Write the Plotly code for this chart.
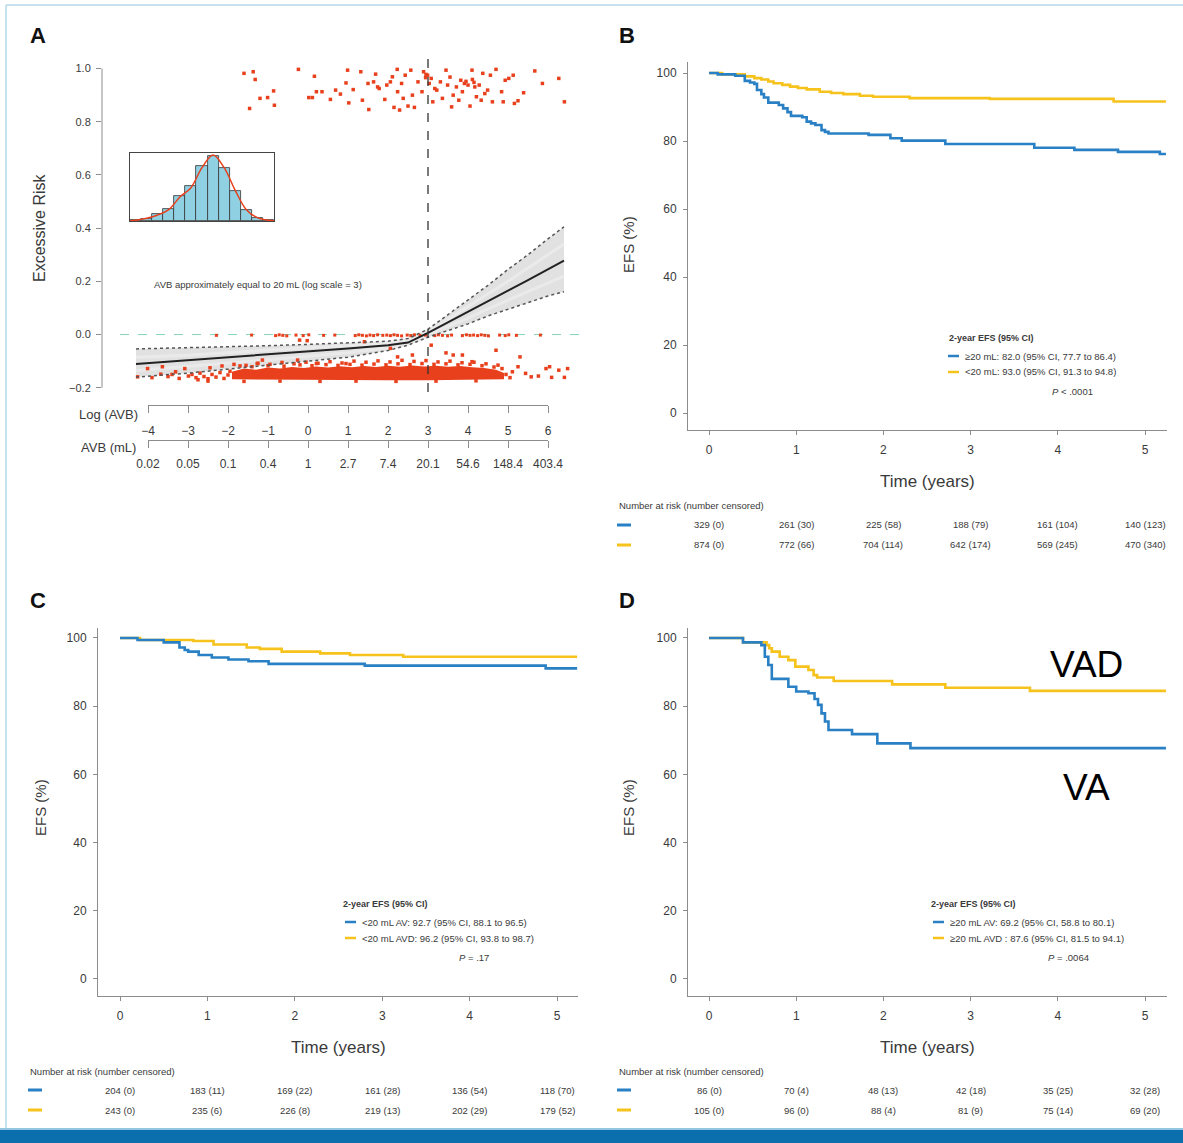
import plotly.graph_objects as go

W, H = 1183, 1143
FONT = "Liberation Sans"
BLUE = "#2a80c4"
YELLOW = "#f6c21c"
RED = "#e8401c"
TXT = "#3a3a3a"
AX = "#8c8c8c"

# ---------------- Panel A data ----------------
log_ticks = [-4, -3, -2, -1, 0, 1, 2, 3, 4, 5, 6]
log_tick_text = ["−4", "−3", "−2", "−1", "0", "1", "2", "3", "4", "5", "6"]
avb_tick_text = ["0.02", "0.05", "0.1", "0.4", "1", "2.7", "7.4", "20.1", "54.6", "148.4", "403.4"]
risk_ticks = [-0.2, 0.0, 0.2, 0.4, 0.6, 0.8, 1.0]
risk_tick_text = ["−0.2", "0.0", "0.2", "0.4", "0.6", "0.8", "1.0"]

fit_x = [-4.3, -3, -2, -1, 0, 1, 2, 2.5, 3, 3.5, 4, 4.5, 5, 5.5, 6, 6.4]
fit_mid = [-0.111, -0.097, -0.086, -0.074, -0.063, -0.052, -0.040, -0.030, 0.006, 0.045, 0.085, 0.125, 0.165, 0.205, 0.245, 0.278]
fit_hi = [-0.054, -0.050, -0.046, -0.042, -0.037, -0.032, -0.025, -0.015, 0.020, 0.075, 0.130, 0.185, 0.245, 0.300, 0.360, 0.405]
fit_lo = [-0.160, -0.145, -0.130, -0.115, -0.100, -0.085, -0.060, -0.040, -0.010, 0.015, 0.040, 0.070, 0.095, 0.120, 0.145, 0.161]
fit_in1 = [-0.085, -0.078, -0.068, -0.058, -0.050, -0.042, -0.032, -0.022, 0.012, 0.058, 0.105, 0.150, 0.200, 0.250, 0.300, 0.340]
fit_in2 = [-0.135, -0.120, -0.108, -0.095, -0.082, -0.068, -0.050, -0.035, 0.000, 0.030, 0.062, 0.097, 0.130, 0.162, 0.195, 0.220]

top_x = [-1.60, -1.37, -1.32, -1.46, -1.20, -1.01, -0.86, -0.84, -0.24, 0.16, 0.02, 0.11, 0.21, 0.35, 0.56,
         0.69, 0.81, 0.95, 0.99, 1.02, 1.13, 1.32, 1.36, 1.50, 1.52, 1.64, 1.69, 1.74, 1.78, 1.92, 1.97,
         2.06, 2.11, 2.15, 2.23, 2.24, 2.29, 2.34, 2.38, 2.43, 2.50, 2.57, 2.61, 2.66, 2.75, 2.85, 2.89,
         2.94, 2.99, 3.03, 3.08, 3.12, 3.17, 3.22, 3.31, 3.36, 3.45, 3.49, 3.59, 3.63, 3.71, 3.77, 3.82,
         3.86, 3.91, 4.00, 4.05, 4.10, 4.11, 4.17, 4.21, 4.28, 4.33, 4.37, 4.42, 4.49, 4.56, 4.61, 4.70,
         4.84, 4.88, 4.93, 5.02, 5.13, 5.16, 5.25, 5.39, 5.67, 5.86, 6.27, 6.41, 3.95, 4.15, 2.95, 3.55]
top_y = [0.982, 0.988, 0.959, 0.850, 0.888, 0.891, 0.916, 0.862, 0.997, 0.971, 0.891, 0.891, 0.913, 0.913, 0.884,
         0.919, 0.904, 0.946, 0.994, 0.871, 0.921, 0.988, 0.881, 0.944, 0.846, 0.950, 0.979, 0.931, 0.925, 0.884, 0.938,
         0.950, 0.969, 0.854, 0.997, 0.913, 0.844, 0.944, 0.888, 0.975, 0.859, 0.994, 0.900, 0.854, 0.950, 0.913, 0.988,
         0.966, 0.975, 0.944, 0.963, 0.875, 0.925, 0.919, 0.950, 0.888, 0.994, 0.938, 0.856, 0.900, 0.931, 0.881, 0.956,
         0.913, 0.944, 0.938, 0.859, 0.994, 0.959, 0.931, 0.894, 0.938, 0.881, 0.982, 0.906, 0.919, 0.975, 0.875, 0.997,
         0.913, 0.875, 0.956, 0.963, 0.975, 0.869, 0.879, 0.909, 0.991, 0.944, 0.963, 0.875, 0.952, 0.948, 0.978, 0.968]

zero_x = [-2.29, -1.41, -0.81, -0.72, -0.63, -0.53, -0.30, -0.12, 0.02, 0.39, 0.67, 1.18, 1.27, 1.36, 1.46, 1.55,
          1.64, 1.74, 1.87, 1.97, 2.06, 2.15, 2.24, 2.34, 2.48, 2.57, 2.66, 2.80, 2.94, 3.17, 3.26, 3.36, 3.49,
          3.59, 3.86, 3.96, 4.05, 4.14, 4.24, 4.33, 4.42, 4.51, 4.79, 4.93, 5.02, 5.21, 5.81]
zero_y = [-0.003, -0.002, -0.004, -0.001, -0.003, -0.005, -0.002, -0.004, -0.001, -0.003, -0.002, -0.004, -0.001,
          -0.003, -0.005, -0.002, -0.004, -0.001, -0.003, -0.002, -0.004, -0.001, -0.003, -0.005, -0.002, -0.004,
          -0.001, -0.003, -0.002, -0.004, -0.001, -0.003, -0.005, -0.002, -0.004, -0.001, -0.003, -0.002, -0.004,
          -0.001, -0.003, -0.005, -0.002, -0.004, -0.001, -0.003, -0.002]

mid_x = [-0.21, -0.02, 1.41, 2.06, 2.24, 2.61, 3.08, 3.45, 3.63, 3.86, 4.70, 5.30, 6.04, -1.27, -1.14, -0.26, 0.21, 0.95, 4.10]
mid_y = [-0.021, -0.023, -0.027, -0.052, -0.084, -0.077, -0.040, -0.069, -0.077, -0.077, -0.059, -0.084, -0.121,
         -0.109, -0.096, -0.096, -0.109, -0.109, -0.102]

low_x = [-4.26, -4.01, -3.68, -3.64, -3.31, -3.22, -3.08, -2.99, -2.75, -2.45, -2.15, -1.85, -1.55, -1.25, -0.95,
         -0.65, -0.35, -0.05, 0.25, 0.55, 0.85, 1.15, 1.45, 1.75, 2.05, 2.35, 2.65, 2.95, 3.25, 3.55, 3.85, 4.15,
         4.45, 4.75, 5.11, 5.25, 5.44, 5.58, 5.76, 5.95, 6.09, 6.27, 6.41, 6.49, 5.05, 4.95,
         -2.5, -1.6, -0.7, 0.3, 1.2, 2.2, 3.2, 4.2,
         -2.9, -2.8, -2.7, -2.6, -2.5, -2.4, -2.3, -2.2, -2.1, -2.0, -1.95, -3.5, -3.4, -3.9,
         -1.7, -1.4, -1.0, -0.6, -0.2, 0.1, 0.45, 0.75, 1.05, 1.35, 1.65, 1.95, 2.25, 2.55, 2.85, 3.15, 3.45,
         3.75, 4.05, 4.35, 4.65, 4.85]
low_y = [-0.159, -0.128, -0.149, -0.121, -0.140, -0.165, -0.128, -0.156, -0.170, -0.125, -0.118, -0.112, -0.116,
         -0.108, -0.112, -0.105, -0.110, -0.104, -0.108, -0.102, -0.107, -0.100, -0.104, -0.099, -0.103, -0.097,
         -0.101, -0.098, -0.103, -0.100, -0.106, -0.104, -0.110, -0.115, -0.140, -0.121, -0.146, -0.159, -0.156,
         -0.128, -0.161, -0.134, -0.161, -0.128, -0.162, -0.150,
         -0.175, -0.176, -0.175, -0.176, -0.175, -0.176, -0.175, -0.174,
         -0.150, -0.162, -0.145, -0.158, -0.166, -0.150, -0.160, -0.143, -0.165, -0.152, -0.138, -0.158, -0.150, -0.162,
         -0.118, -0.121, -0.117, -0.119, -0.114, -0.117, -0.113, -0.116, -0.112, -0.115, -0.111, -0.114, -0.110,
         -0.113, -0.109, -0.112, -0.110, -0.114, -0.112, -0.117, -0.122, -0.128]

core_top_x = [-1.9, -1.6, -1.3, -1.0, -0.7, -0.4, -0.1, 0.2, 0.5, 0.8, 1.1, 1.4, 1.7, 2.0, 2.3, 2.6, 2.9, 3.2,
              3.5, 3.8, 4.1, 4.4, 4.7, 4.9]
core_top_y = [-0.140, -0.128, -0.132, -0.124, -0.128, -0.122, -0.126, -0.120, -0.124, -0.119, -0.123, -0.118,
              -0.122, -0.117, -0.121, -0.116, -0.120, -0.117, -0.121, -0.118, -0.123, -0.126, -0.132, -0.145]
core_bot_x = [4.9, 4.0, 3.0, 2.0, 1.0, 0.0, -1.0, -1.9]
core_bot_y = [-0.168, -0.171, -0.172, -0.172, -0.171, -0.172, -0.171, -0.168]

hist_bin = list(range(13))
hist_val = [0.01, 0.03, 0.10, 0.18, 0.38, 0.52, 0.82, 0.98, 0.80, 0.45, 0.16, 0.05, 0.01]
dens_x = [-0.5, 0, 1, 2, 3, 4, 5, 6, 7, 8, 9, 10, 11, 12, 12.5]
dens_y = [0.005, 0.01, 0.04, 0.09, 0.17, 0.36, 0.50, 0.80, 0.99, 0.80, 0.46, 0.17, 0.05, 0.01, 0.005]

# ---------------- KM data ----------------
B_blue_t = [0, 0.10, 0.30, 0.41, 0.47, 0.52, 0.55, 0.60, 0.63, 0.68, 0.80, 0.85, 0.90, 0.94, 1.07, 1.12, 1.17,
            1.22, 1.29, 1.33, 1.37, 1.83, 2.08, 2.21, 2.71, 3.73, 4.19, 4.69, 5.17, 5.24]
B_blue_v = [100, 99.6, 99.2, 97.7, 97.2, 96.8, 95.0, 93.8, 92.8, 91.3, 90.6, 89.6, 88.5, 87.4, 87.0, 85.7, 85.2,
            84.7, 83.2, 82.7, 82.2, 81.8, 80.8, 80.1, 79.1, 78.0, 77.4, 76.8, 76.2, 76.2]
B_yel_t = [0, 0.15, 0.41, 0.52, 0.60, 0.68, 0.74, 0.84, 0.93, 1.02, 1.12, 1.27, 1.40, 1.54, 1.73, 1.88, 2.30,
           3.22, 4.64, 5.24]
B_yel_v = [100, 99.6, 99.0, 98.5, 98.1, 97.5, 97.0, 96.5, 96.0, 95.6, 95.2, 94.5, 94.1, 93.8, 93.3, 93.0, 92.6,
           92.4, 91.6, 91.6]

C_blue_t = [0, 0.20, 0.50, 0.68, 0.74, 0.78, 0.90, 1.05, 1.24, 1.47, 1.70, 2.80, 4.87, 5.23]
C_blue_v = [100, 99.4, 98.7, 97.2, 96.5, 96.0, 95.0, 94.3, 93.7, 93.2, 92.4, 91.9, 91.1, 91.1]
C_yel_t = [0, 0.23, 0.84, 1.07, 1.45, 1.60, 1.85, 2.29, 2.63, 3.24, 5.23]
C_yel_v = [100, 99.4, 99.1, 98.1, 97.2, 96.8, 96.0, 95.5, 95.0, 94.5, 94.5]

D_blue_t = [0, 0.39, 0.60, 0.64, 0.68, 0.72, 0.91, 1.00, 1.14, 1.21, 1.25, 1.29, 1.33, 1.37, 1.64, 1.93, 2.31, 5.24]
D_blue_v = [100, 98.7, 97.9, 94.5, 92.1, 88.0, 85.7, 84.3, 83.8, 82.1, 80.4, 77.9, 75.5, 73.0, 71.8, 69.1, 67.7, 67.7]
D_yel_t = [0, 0.39, 0.66, 0.69, 0.72, 0.81, 0.91, 0.99, 1.14, 1.20, 1.24, 1.43, 2.10, 2.71, 3.68, 5.24]
D_yel_v = [100, 98.7, 97.9, 97.0, 96.0, 94.5, 93.5, 91.6, 90.6, 89.1, 88.4, 87.4, 86.4, 85.4, 84.5, 84.5]

time_ticks = [0, 1, 2, 3, 4, 5]
efs_ticks = [0, 20, 40, 60, 80, 100]

B_risk_blue = ["329 (0)", "261 (30)", "225 (58)", "188 (79)", "161 (104)", "140 (123)"]
B_risk_yel = ["874 (0)", "772 (66)", "704 (114)", "642 (174)", "569 (245)", "470 (340)"]
C_risk_blue = ["204 (0)", "183 (11)", "169 (22)", "161 (28)", "136 (54)", "118 (70)"]
C_risk_yel = ["243 (0)", "235 (6)", "226 (8)", "219 (13)", "202 (29)", "179 (52)"]
D_risk_blue = ["86 (0)", "70 (4)", "48 (13)", "42 (18)", "35 (25)", "32 (28)"]
D_risk_yel = ["105 (0)", "96 (0)", "88 (4)", "81 (9)", "75 (14)", "69 (20)"]

B_legend = ["≥20 mL: 82.0 (95% CI, 77.7 to 86.4)", "<20 mL: 93.0 (95% CI, 91.3 to 94.8)"]
C_legend = ["<20 mL AV: 92.7 (95% CI, 88.1 to 96.5)", "<20 mL AVD: 96.2 (95% CI, 93.8 to 98.7)"]
D_legend = ["≥20 mL AV: 69.2 (95% CI, 58.8 to 80.1)", "≥20 mL AVD : 87.6 (95% CI, 81.5 to 94.1)"]
P_values = ["<i>P</i> < .0001", "<i>P</i> = .17", "<i>P</i> = .0064"]


def fx(p):
    return p / W


def fy(p):
    return 1 - p / H


def dom_x(a, b):
    return [a / W, b / W]


def dom_y(a, b):
    return [1 - b / H, 1 - a / H]


fig = go.Figure()

# ---- Panel A traces ----
fig.add_trace(go.Scatter(x=fit_x + fit_x[::-1], y=fit_hi + fit_lo[::-1], fill="toself",
                         fillcolor="rgba(200,200,200,0.55)", line=dict(width=0), mode="lines",
                         xaxis="x", yaxis="y", hoverinfo="skip"))
for ys in [fit_in1, fit_in2]:
    fig.add_trace(go.Scatter(x=fit_x, y=ys, mode="lines", xaxis="x", yaxis="y",
                             line=dict(color="rgba(235,235,235,0.9)", width=3), hoverinfo="skip"))
fig.add_trace(go.Scatter(x=core_top_x + core_bot_x, y=core_top_y + core_bot_y, fill="toself",
                         fillcolor=RED, line=dict(width=0, color=RED), mode="lines",
                         xaxis="x", yaxis="y", hoverinfo="skip"))
for xs, ys, sz in [(top_x, top_y, 3.5), (zero_x, zero_y, 3), (mid_x, mid_y, 3.5), (low_x, low_y, 3.5)]:
    fig.add_trace(go.Scatter(x=xs, y=ys, mode="markers", xaxis="x", yaxis="y",
                             marker=dict(color=RED, size=sz, symbol="square", line=dict(width=0)),
                             hoverinfo="skip"))
for ys in [fit_hi, fit_lo]:
    fig.add_trace(go.Scatter(x=fit_x, y=ys, mode="lines", xaxis="x", yaxis="y",
                             line=dict(color="#555555", width=1.5, dash="dot"), hoverinfo="skip"))
fig.add_trace(go.Scatter(x=fit_x, y=fit_mid, mode="lines", xaxis="x", yaxis="y",
                         line=dict(color="#222222", width=2), hoverinfo="skip"))

# dummy traces for the two lower custom axes
for ax in ["x6", "x7"]:
    fig.add_trace(go.Scatter(x=[-4, 6], y=[0.5, 0.5], mode="markers", xaxis=ax, yaxis="y",
                             marker=dict(opacity=0), hoverinfo="skip"))

# inset histogram
fig.add_trace(go.Bar(x=hist_bin, y=hist_val, xaxis="x5", yaxis="y5",
                     marker=dict(color="#8fd0e2", line=dict(color="#333333", width=0.8)), hoverinfo="skip"))
fig.add_trace(go.Scatter(x=dens_x, y=dens_y, mode="lines", xaxis="x5", yaxis="y5",
                         line=dict(color=RED, width=1.5, shape="spline"), hoverinfo="skip"))

# ---- KM traces ----
km = [("x2", "y2", B_blue_t, B_blue_v, B_yel_t, B_yel_v),
      ("x3", "y3", C_blue_t, C_blue_v, C_yel_t, C_yel_v),
      ("x4", "y4", D_blue_t, D_blue_v, D_yel_t, D_yel_v)]
for xa, ya, bt, bv, yt, yv in km:
    fig.add_trace(go.Scatter(x=yt, y=yv, mode="lines", xaxis=xa, yaxis=ya,
                             line=dict(color=YELLOW, width=2.6, shape="hv"), hoverinfo="skip"))
    fig.add_trace(go.Scatter(x=bt, y=bv, mode="lines", xaxis=xa, yaxis=ya,
                             line=dict(color=BLUE, width=2.6, shape="hv"), hoverinfo="skip"))

common_ax = dict(showgrid=False, zeroline=False, linecolor=AX, tickcolor=AX, automargin=False)


def km_axes(dx, dy, xr, yr, anchor_x, anchor_y):
    xa = dict(domain=dom_x(*dx), range=xr, anchor=anchor_y, showline=True, ticks="outside", ticklen=4,
              tickvals=time_ticks, tickfont=dict(size=12, color=TXT), ticklabelstandoff=5, **common_ax)
    ya = dict(domain=dom_y(*dy), range=yr, anchor=anchor_x, showline=True, ticks="outside", ticklen=4,
              tickvals=efs_ticks, tickfont=dict(size=12, color=TXT), ticklabelstandoff=4, **common_ax)
    return xa, ya


xB, yB = km_axes((688, 1167), (62, 430), [-0.241, 5.252], [-5.0, 103.24], "x2", "y2")
xC, yC = km_axes((98, 578), (628, 996), [-0.252, 5.240], [-4.99, 102.93], "x3", "y3")
xD, yD = km_axes((688, 1167), (628, 996), [-0.241, 5.252], [-4.99, 102.93], "x4", "y4")

inset_ax = dict(showline=True, mirror=True, linecolor="#444444", showticklabels=False, ticks="",
                showgrid=False, zeroline=False, automargin=False)

fig.update_layout(
    width=W, height=H, margin=dict(l=0, r=0, t=0, b=0, autoexpand=False),
    paper_bgcolor="white", plot_bgcolor="rgba(0,0,0,0)", showlegend=False, bargap=0,
    font=dict(family=FONT, color=TXT),
    xaxis=dict(domain=dom_x(102, 590), range=[-5.15, 7.05], visible=False, anchor="y", automargin=False),
    yaxis=dict(domain=dom_y(55, 392), range=[-0.216, 1.051], anchor="x", tickvals=risk_ticks,
               ticktext=risk_tick_text, ticks="outside", ticklen=5, showline=False,
               tickfont=dict(size=11, color=TXT), ticklabelstandoff=3, **common_ax),
    xaxis6=dict(domain=dom_x(148, 548), range=[-4, 6], anchor="free", position=fy(405), side="bottom",
                showline=True, ticks="outside", ticklen=7, tickvals=log_ticks, ticktext=log_tick_text,
                tickfont=dict(size=12, color=TXT), ticklabelstandoff=8, **common_ax),
    xaxis7=dict(domain=dom_x(148, 548), range=[-4, 6], anchor="free", position=fy(440), side="bottom",
                showline=True, ticks="outside", ticklen=7, tickvals=log_ticks, ticktext=avb_tick_text,
                tickfont=dict(size=12, color=TXT), ticklabelstandoff=6, **common_ax),
    xaxis5=dict(domain=dom_x(130, 274), range=[-0.5, 12.5], anchor="y5", **inset_ax),
    yaxis5=dict(domain=dom_y(153, 221), range=[0, 1.02], anchor="x5", **inset_ax),
    xaxis2=xB, yaxis2=yB, xaxis3=xC, yaxis3=yC, xaxis4=xD, yaxis4=yD,
)

shapes = []
# page frame
shapes.append(dict(type="line", xref="paper", yref="paper", x0=fx(6), x1=1, y0=fy(5), y1=fy(5),
                   line=dict(color="#b5d9ea", width=1.5)))
shapes.append(dict(type="line", xref="paper", yref="paper", x0=fx(6), x1=fx(6), y0=fy(5), y1=fy(1128),
                   line=dict(color="#b5d9ea", width=1.5)))
shapes.append(dict(type="rect", xref="paper", yref="paper", x0=0, x1=1, y0=0, y1=fy(1130),
                   fillcolor="#0b6fae", line=dict(width=0)))
shapes.append(dict(type="line", xref="paper", yref="paper", x0=0, x1=1, y0=fy(1129), y1=fy(1129),
                   line=dict(color="#6fb3da", width=1.5)))
# panel A axis line, reference lines
shapes.append(dict(type="line", xref="x domain", yref="y", x0=0, x1=0, y0=-0.2, y1=1.0,
                   line=dict(color=AX, width=1)))
shapes.append(dict(type="line", xref="x", yref="y domain", x0=3, x1=3, y0=0, y1=1,
                   line=dict(color="#333333", width=1.3, dash="dash")))
shapes.append(dict(type="line", xref="x", yref="y", x0=-4.7, x1=6.9, y0=0, y1=0, layer="below",
                   line=dict(color="#86d3b5", width=1, dash="dash")))

ann = []


def txt(x, y, s, size, color=TXT, xa="left", ya="middle", angle=0, xref="paper", yref="paper"):
    ann.append(dict(x=x, y=y, xref=xref, yref=yref, text=s, showarrow=False, xanchor=xa, yanchor=ya,
                    textangle=angle, font=dict(size=size, color=color, family=FONT)))


# panel letters
for letter, lx, ly in [("A", 38, 35), ("B", 627, 35), ("C", 38, 600), ("D", 627, 600)]:
    txt(fx(lx), fy(ly), "<b>" + letter + "</b>", 22, color="#111111", xa="center")

# panel A texts
txt(fx(40), fy(228), "Excessive Risk", 16, angle=-90, xa="center")
txt(fx(152), fy(284), "AVB approximately equal to 20 mL (log scale = 3)", 9.5)
txt(fx(140), fy(414), "Log (AVB)", 13, xa="right")
txt(fx(138), fy(448), "AVB (mL)", 13, xa="right")

# KM titles
for (ex, ey), (tx, ty) in [((628, 245), (927, 481)), ((40, 808), (338, 1047)), ((628, 808), (927, 1047))]:
    txt(fx(ex), fy(ey), "EFS (%)", 15, angle=-90, xa="center")
    txt(fx(tx), fy(ty), "Time (years)", 17, xa="center")

# KM legends
legs = [(947, 338, 963, B_legend, P_values[0], 1072, 392),
        (341, 904, 360, C_legend, P_values[1], 474, 957),
        (929, 904, 948, D_legend, P_values[2], 1068, 957)]
for tx0, ty0, textx, lines, ptxt, pxc, pyc in legs:
    txt(fx(tx0), fy(ty0), "<b>2-year EFS (95% CI)</b>", 9)
    for i, (col, line) in enumerate(zip([BLUE, YELLOW], lines)):
        yy = ty0 + 18 + 16 * i
        shapes.append(dict(type="line", xref="paper", yref="paper", x0=fx(textx - 15), x1=fx(textx - 4),
                           y0=fy(yy), y1=fy(yy), line=dict(color=col, width=2.5)))
        txt(fx(textx), fy(yy), line, 9.5)
    txt(fx(pxc), fy(pyc), ptxt, 9.5, xa="center")

# number-at-risk tables
tables = [("x2", 617, 506, B_risk_blue, B_risk_yel),
          ("x3", 28, 1071, C_risk_blue, C_risk_yel),
          ("x4", 617, 1071, D_risk_blue, D_risk_yel)]
for xa, hx, hy, rb, ryl in tables:
    txt(fx(hx), fy(hy), "Number at risk (number censored)", 9.5)
    for i, (col, row) in enumerate(zip([BLUE, YELLOW], [rb, ryl])):
        yy = hy + 19 + 20 * i
        shapes.append(dict(type="line", xref="paper", yref="paper", x0=fx(hx), x1=fx(hx + 14),
                           y0=fy(yy), y1=fy(yy), line=dict(color=col, width=3)))
        for t, s in zip(time_ticks, row):
            txt(t, fy(yy), s, 9.5, xa="center", xref=xa)

# VAD / VA labels
txt(fx(1086), fy(664), "VAD", 37, color="#000000", xa="center")
txt(fx(1086), fy(787), "VA", 37, color="#000000", xa="center")

fig.update_layout(shapes=shapes, annotations=ann)

fig.write_html("out.html", config={"displayModeBar": False},
               post_script="document.documentElement.style.overflow='hidden';"
                           "document.body.style.margin='0';document.body.style.padding='0';"
                           "document.body.style.overflow='hidden';")
